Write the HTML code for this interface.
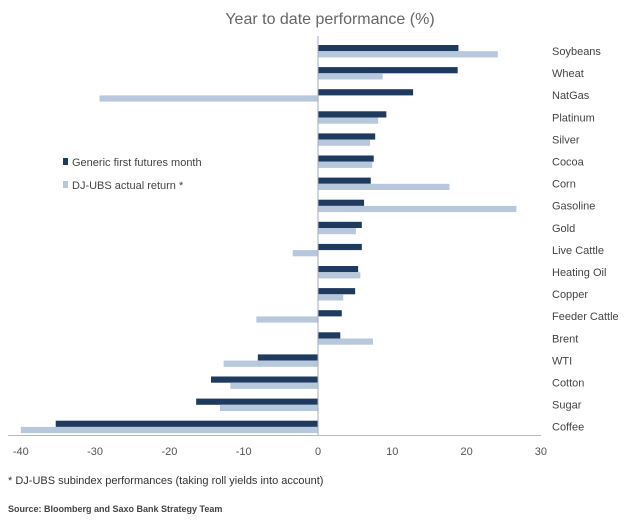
<!DOCTYPE html>
<html><head><meta charset="utf-8"><style>
body{margin:0;background:#fff;}
svg{display:block;font-family:"Liberation Sans",sans-serif;}
</style></head><body>
<svg width="640" height="520" viewBox="0 0 640 520">
<text x="330" y="24" text-anchor="middle" font-size="16" fill="#666">Year to date performance (%)</text>
<g id="bars"></g>
<g id="labels"></g>
<g id="ticks"></g>
<line x1="318" y1="36" x2="318" y2="436" stroke="#aab" stroke-width="1"/>
<line x1="8" y1="435.5" x2="541" y2="435.5" stroke="#bbb" stroke-width="1"/>
<g>
<rect x="63" y="158" width="5" height="7" fill="#1f3a5f"/>
<text x="72" y="166" font-size="11" fill="#444">Generic first futures month</text>
<rect x="63" y="181" width="5" height="7" fill="#b8c8dc"/>
<text x="72" y="189" font-size="11" fill="#444">DJ-UBS actual return *</text>
</g>
<text x="8" y="484" font-size="11" fill="#333">* DJ-UBS subindex performances (taking roll yields into account)</text>
<text x="8" y="512" font-size="9" font-weight="bold" fill="#444">Source: Bloomberg and Saxo Bank Strategy Team</text>
</svg>
<script>
const categories=["Soybeans","Wheat","NatGas","Platinum","Silver","Cocoa","Corn","Gasoline","Gold","Live Cattle","Heating Oil","Copper","Feeder Cattle","Brent","WTI","Cotton","Sugar","Coffee"];
const genericValues=[18.9,18.8,12.8,9.2,7.7,7.5,7.1,6.2,5.9,5.9,5.4,5.0,3.2,3.0,-8.1,-14.4,-16.4,-35.3];
const djubsValues=[24.2,8.7,-29.4,8.1,7.0,7.3,17.7,26.7,5.1,-3.4,5.7,3.4,-8.3,7.4,-12.7,-11.8,-13.2,-40];
const tickValues=[-40,-30,-20,-10,0,10,20,30];
const NS="http://www.w3.org/2000/svg";
function xs(v){return 318+v*7.43;}
function ys(i){return 45+i*22.1;}
const bars=document.getElementById('bars'),labels=document.getElementById('labels'),ticks=document.getElementById('ticks');
categories.forEach((c,i)=>{
  [[genericValues,"#1f3a5f",0,"bar-generic"],[djubsValues,"#b8c8dc",6.2,"bar-djubs"]].forEach(s=>{
    const v=s[0][i];const r=document.createElementNS(NS,'rect');
    r.setAttribute('x',Math.min(xs(0),xs(v)));r.setAttribute('width',Math.abs(xs(v)-xs(0)));
    r.setAttribute('y',ys(i)+s[2]);r.setAttribute('height',6.2);r.setAttribute('fill',s[1]);
    
    
    bars.appendChild(r);
  });
  const t=document.createElementNS(NS,'text');
  t.setAttribute('x',552);t.setAttribute('y',ys(i)+10);t.setAttribute('font-size','11');t.setAttribute('fill','#444');
  t.textContent=c;
  
  
  labels.appendChild(t);
});
tickValues.forEach(v=>{
  const t=document.createElementNS(NS,'text');
  t.setAttribute('x',xs(v));t.setAttribute('y',455);t.setAttribute('font-size','11');t.setAttribute('fill','#555');t.setAttribute('text-anchor','middle');
  t.textContent=v;
  
  
  ticks.appendChild(t);
});
</script>
</body></html>
